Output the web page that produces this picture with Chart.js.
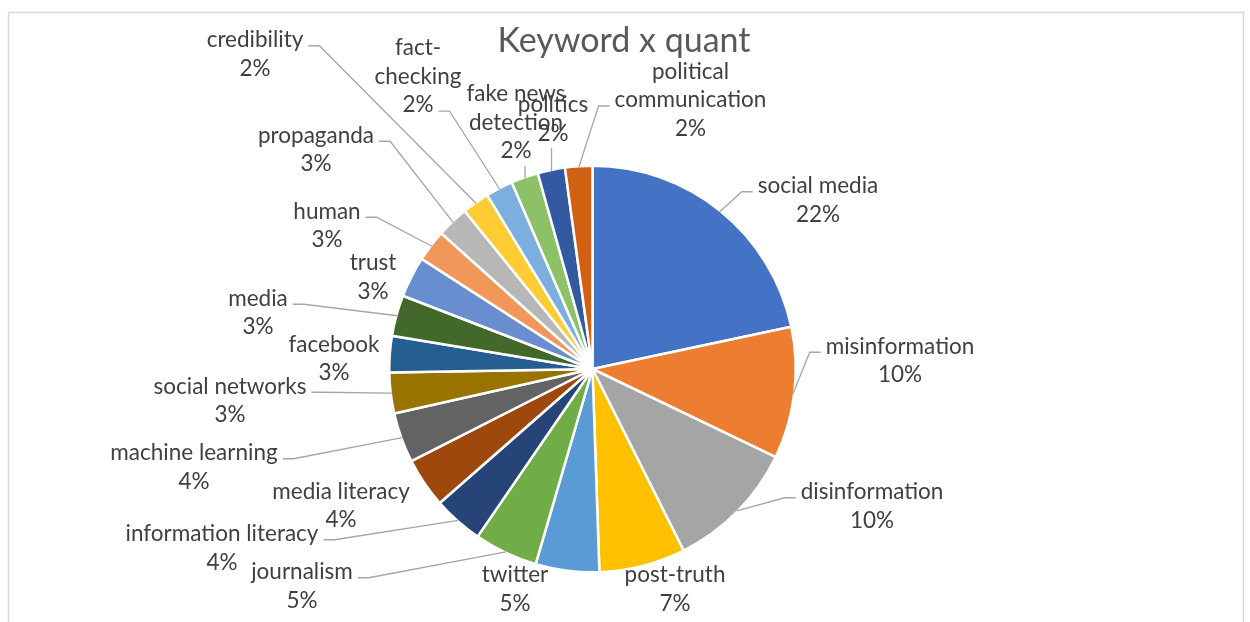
<!DOCTYPE html>
<html lang="en">
<head>
<meta charset="UTF-8">
<title>Keyword x quant</title>
<script src="https://cdn.jsdelivr.net/npm/chart.js@4.4.1/dist/chart.umd.min.js"></script>
<style>
  html, body { margin: 0; padding: 0; background: #fff; }
  #wrap { position: relative; width: 1250px; height: 622px; }
</style>
</head>
<body>
<div id="wrap"><canvas id="chart"></canvas></div>
<script>
const keywords = ['social media', 'misinformation', 'disinformation', 'post-truth', 'twitter',
  'journalism', 'information literacy', 'media literacy', 'machine learning', 'social networks',
  'facebook', 'media', 'trust', 'human', 'propaganda', 'credibility', 'fact-checking',
  'fake news detection', 'politics', 'political communication'];
const counts = [60, 29, 29, 19, 14, 14, 11, 11, 11, 9, 8, 9, 9, 7, 7, 6, 6, 6, 6, 6];
const colors = ['#4472C4', '#ED7D31', '#A5A5A5', '#FFC000', '#5B9BD5', '#70AD47', '#264478',
  '#9E480E', '#636363', '#997300', '#255E91', '#43682B', '#698ED0', '#F1975A', '#B7B7B7',
  '#FFCD33', '#7CAFDD', '#8CC168', '#335AA1', '#D26012'];

// where each label block sits, as an offset of its centre from the pie centre (px)
const labelLayout = [
  { dx: 225.5, dy: -169, leader: true },
  { dx: 307.5, dy: -8.5, leader: true },
  { dx: 279.5, dy: 137, leader: true },
  { dx: 82.5, dy: 220 },
  { dx: -77.5, dy: 220 },
  { dx: -290.5, dy: 217, leader: true },
  { dx: -370.5, dy: 179, leader: true },
  { dx: -251.5, dy: 136.5 },
  { dx: -398.5, dy: 98, leader: true },
  { dx: -362.5, dy: 31.5, leader: true },
  { dx: -258.5, dy: -10.5 },
  { dx: -334.5, dy: -56.5, leader: true },
  { dx: -219.5, dy: -92 },
  { dx: -265.5, dy: -143.5, leader: true },
  { dx: -276.5, dy: -219.5, leader: true },
  { dx: -337.5, dy: -315, leader: true },
  { dx: -174.5, dy: -292.3, leader: true, attach: 2, wrap: 95 },
  { dx: -76.5, dy: -246.5, leader: 'below', wrap: 108 },
  { dx: -39.5, dy: -250, leader: 'below' },
  { dx: 98, dy: -269, leader: true, attach: 1, wrap: 165 }
];

const LABEL_FONT = '22.5px Lato';
const LINE_H = 28.5;

// greedy wrap on spaces, also allowing a break after a hyphen
function wrapName(ctx, text, maxWidth) {
  const tokens = text.replace(/-/g, '- ').split(' ').filter(Boolean);
  const lines = [];
  let cur = '';
  tokens.forEach(t => {
    const joiner = cur === '' || cur.endsWith('-') ? '' : ' ';
    const test = cur + joiner + t;
    if (cur && ctx.measureText(test).width > maxWidth) {
      lines.push(cur);
      cur = t;
    } else {
      cur = test;
    }
  });
  if (cur) lines.push(cur);
  return lines;
}

const frameAndTitle = {
  id: 'frameAndTitle',
  beforeDraw(chart) {
    const ctx = chart.ctx;
    ctx.save();
    ctx.fillStyle = '#fff';
    ctx.fillRect(0, 0, chart.width, chart.height);
    ctx.strokeStyle = '#d9d9d9';
    ctx.lineWidth = 1.5;
    ctx.strokeRect(8.5, 12.5, 1235, 700);
    ctx.fillStyle = '#595959';
    ctx.font = '34px Lato';
    ctx.textAlign = 'center';
    ctx.textBaseline = 'alphabetic';
    ctx.fillText('Keyword x quant', 624, 52);
    ctx.restore();
  }
};

const sliceLabels = {
  id: 'sliceLabels',
  afterDatasetsDraw(chart) {
    const ctx = chart.ctx;
    const arcs = chart.getDatasetMeta(0).data;
    const total = counts.reduce((s, v) => s + v, 0);
    ctx.save();
    ctx.font = LABEL_FONT;
    ctx.textAlign = 'center';
    ctx.textBaseline = 'middle';
    arcs.forEach((arc, i) => {
      const p = arc.getProps(['x', 'y', 'startAngle', 'endAngle', 'outerRadius'], true);
      const mid = (p.startAngle + p.endAngle) / 2;
      const r = p.outerRadius - 1;
      const tipX = p.x + Math.cos(mid) * r;
      const tipY = p.y + Math.sin(mid) * r;
      const lay = labelLayout[i];
      const lines = wrapName(ctx, keywords[i], lay.wrap || Infinity);
      lines.push(Math.round(counts[i] / total * 100) + '%');
      const cx = p.x + lay.dx;
      const top = p.y + lay.dy - (lines.length - 1) * LINE_H / 2;

      ctx.fillStyle = '#404040';
      lines.forEach((t, k) => ctx.fillText(t, cx, top + k * LINE_H));

      if (!lay.leader) return;
      ctx.strokeStyle = '#a6a6a6';
      ctx.lineWidth = 1.3;
      ctx.beginPath();
      if (lay.leader === 'below') {
        const bottom = top + (lines.length - 1) * LINE_H + 15;
        ctx.moveTo(tipX, bottom);
        ctx.lineTo(tipX, tipY);
      } else {
        const k = lay.attach || 0;
        const w = ctx.measureText(lines[k]).width;
        const side = tipX > cx ? 1 : -1;
        const sx = cx + side * (w / 2 + 5);
        const sy = top + k * LINE_H + 6;
        ctx.moveTo(sx, sy);
        ctx.lineTo(sx + side * 11, sy);
        ctx.lineTo(tipX, tipY);
      }
      ctx.stroke();
    });
    ctx.restore();
  }
};

function draw() {
  new Chart(document.getElementById('chart'), {
    type: 'pie',
    data: {
      labels: keywords,
      datasets: [{
        data: counts,
        backgroundColor: colors,
        borderColor: '#fff',
        borderWidth: 2.5
      }]
    },
    options: {
      responsive: true,
      maintainAspectRatio: false,
      animation: false,
      events: [],
      layout: { padding: { left: 388, right: 453, top: 164.5, bottom: 48.5 } },
      plugins: {
        legend: { display: false },
        tooltip: { enabled: false }
      }
    },
    plugins: [frameAndTitle, sliceLabels]
  });
}

document.fonts.load(LABEL_FONT).finally(draw);
</script>
</body>
</html>
